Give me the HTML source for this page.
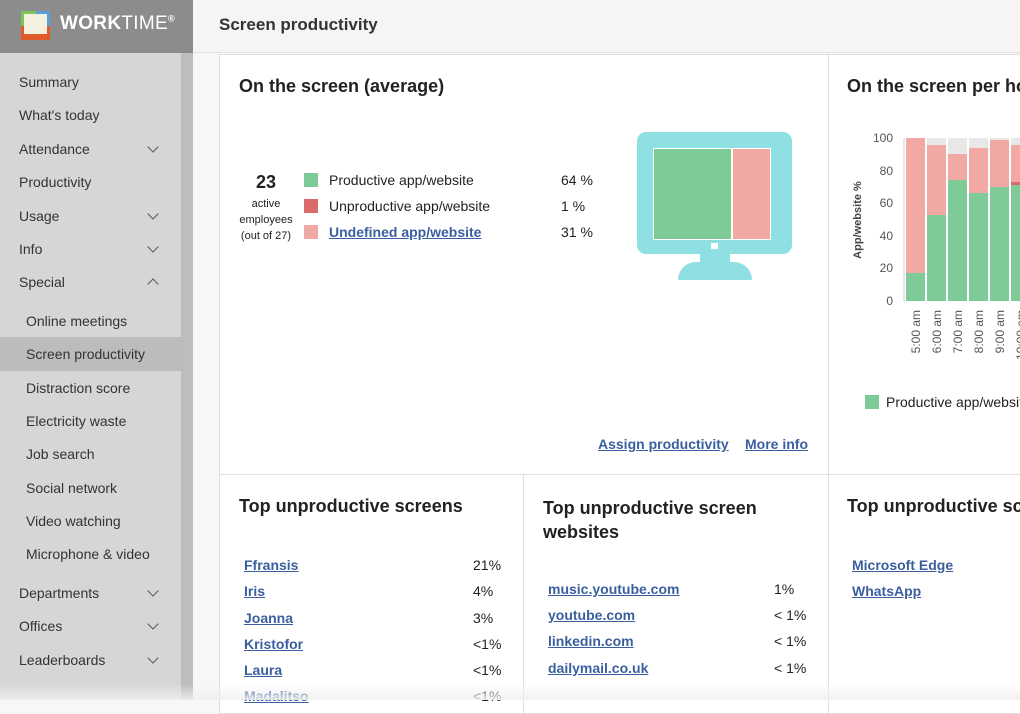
<!DOCTYPE html>
<html><head><style>
*{margin:0;padding:0;box-sizing:border-box}
body{width:1020px;height:700px;overflow:hidden;background:#f7f7f7;font-family:"Liberation Sans",sans-serif;position:relative;color:#222}
.abs{position:absolute}
.side{left:0;top:53px;width:181px;height:647px;background:#d6d6d6}
.scroll{left:181px;top:53px;width:12px;height:647px;background:#bdbdbd}
.logo{left:0;top:0;width:193px;height:53px;background:#8c8c8d}
.hdr{left:193px;top:0;width:827px;height:53px;background:#f5f5f5;border-bottom:1px solid #e2e2e2}
.nav{position:absolute;left:19px;font-size:14px;color:#333}
.sub{left:26px}
.chev{position:absolute;left:149px;width:8px;height:8px;border-right:1.6px solid #555;border-bottom:1.6px solid #555;transform:rotate(45deg)}
.up{transform:rotate(-135deg)}
.card{background:#fff;border:1px solid #e0e0e0}
h2{font-size:18px;font-weight:bold;color:#222;position:absolute}
a{color:#3b5f9e;font-weight:bold;text-decoration:underline;font-size:14px;position:absolute}
.t{position:absolute;font-size:14px;color:#222}
</style></head><body>
<div class="abs logo"></div>
<div class="abs" style="left:21px;top:11px;width:29px;height:29px;background:#e05a2b"></div>
<div class="abs" style="left:21px;top:11px;width:15px;height:15px;background:#7cc35a"></div>
<div class="abs" style="left:36px;top:11px;width:14px;height:15px;background:#5a9fd8"></div>
<div class="abs" style="left:24px;top:14px;width:23px;height:20px;background:#f4f1e0"></div>
<div class="abs" style="left:60px;top:13px;font-size:19px;color:#fff;font-weight:bold;letter-spacing:0.3px">WORK<span style="font-weight:normal">TIME</span><sup style="font-size:9px">®</sup></div>
<div class="abs hdr"></div>
<div class="abs" style="left:219px;top:15px;font-size:17px;font-weight:bold;color:#333">Screen productivity</div>
<div class="abs side"></div>
<div class="abs scroll"></div>
<div class="abs" style="left:0;top:337px;width:181px;height:34px;background:#bcbcbc"></div>
<div class="nav" style="top:74px">Summary</div>
<div class="nav" style="top:107px">What's today</div>
<div class="nav" style="top:141px">Attendance</div><div class="chev" style="top:143px"></div>
<div class="nav" style="top:174px">Productivity</div>
<div class="nav" style="top:208px">Usage</div><div class="chev" style="top:210px"></div>
<div class="nav" style="top:241px">Info</div><div class="chev" style="top:243px"></div>
<div class="nav" style="top:274px">Special</div><div class="chev up" style="top:280px"></div>
<div class="nav sub" style="top:313px">Online meetings</div>
<div class="nav sub" style="top:346px">Screen productivity</div>
<div class="nav sub" style="top:380px">Distraction score</div>
<div class="nav sub" style="top:413px">Electricity waste</div>
<div class="nav sub" style="top:446px">Job search</div>
<div class="nav sub" style="top:480px">Social network</div>
<div class="nav sub" style="top:513px">Video watching</div>
<div class="nav sub" style="top:546px">Microphone &amp; video</div>
<div class="nav" style="top:585px">Departments</div><div class="chev" style="top:587px"></div>
<div class="nav" style="top:618px">Offices</div><div class="chev" style="top:620px"></div>
<div class="nav" style="top:652px">Leaderboards</div><div class="chev" style="top:654px"></div>

<div class="abs card" style="left:219px;top:54px;width:610px;height:421px"></div>
<div class="abs card" style="left:828px;top:54px;width:200px;height:421px"></div>
<div class="abs card" style="left:219px;top:474px;width:305px;height:240px"></div>
<div class="abs card" style="left:523px;top:474px;width:306px;height:240px"></div>
<div class="abs card" style="left:828px;top:474px;width:200px;height:240px"></div>

<h2 style="left:239px;top:76px">On the screen (average)</h2>
<div class="abs" style="left:234px;top:172px;width:64px;text-align:center;font-size:18px;font-weight:bold">23</div>
<div class="abs" style="left:234px;top:196px;width:64px;text-align:center;font-size:11px;line-height:16px">active<br>employees<br>(out of 27)</div>
<div class="abs" style="left:304px;top:173px;width:14px;height:14px;background:#7fcb97"></div>
<div class="abs" style="left:304px;top:199px;width:14px;height:14px;background:#d96b6b"></div>
<div class="abs" style="left:304px;top:225px;width:14px;height:14px;background:#f2a9a3"></div>
<div class="t" style="left:329px;top:172px">Productive app/website</div>
<div class="t" style="left:329px;top:198px">Unproductive app/website</div>
<a style="left:329px;top:224px">Undefined app/website</a>
<div class="t" style="left:561px;top:172px">64 %</div>
<div class="t" style="left:561px;top:198px">1 %</div>
<div class="t" style="left:561px;top:224px">31 %</div>
<!-- monitor -->
<div class="abs" style="left:637px;top:132px;width:155px;height:122px;background:#8fe0e2;border-radius:9px"></div>
<div class="abs" style="left:653px;top:148px;width:79px;height:92px;background:#7fcb97;border:1px solid #fff"></div>
<div class="abs" style="left:732px;top:148px;width:39px;height:92px;background:#f2a9a3;border:1px solid #fff"></div>
<div class="abs" style="left:711px;top:243px;width:7px;height:6px;background:#fff"></div>
<div class="abs" style="left:700px;top:254px;width:30px;height:8px;background:#8fe0e2"></div>
<div class="abs" style="left:678px;top:262px;width:74px;height:18px;background:#8fe0e2;border-radius:30px 30px 0 0"></div>
<a style="left:598px;top:436px">Assign productivity</a>
<a style="left:745px;top:436px">More info</a>

<h2 style="left:847px;top:76px;white-space:nowrap">On the screen per hour</h2>
<svg class="abs" style="left:830px;top:120px" width="190" height="300">
<g font-family="Liberation Sans" font-size="12" fill="#555" text-anchor="end">
<text x="63" y="22">100</text><text x="63" y="55">80</text><text x="63" y="87">60</text><text x="63" y="120">40</text><text x="63" y="152">20</text><text x="63" y="185">0</text>
</g>
<text transform="translate(31,100) rotate(-90)" font-family="Liberation Sans" font-size="11" font-weight="bold" fill="#444" text-anchor="middle">App/website %</text>
<line x1="74" y1="18" x2="74" y2="182" stroke="#ccc"/>
<g id="b"></g>
<!-- bars: y0=181, scale 1.63 -->
<rect x="76" y="18" width="19" height="163" fill="#e8e8e8"/><rect x="76" y="18" width="19" height="163" fill="#f2a9a3"/><rect x="76" y="153" width="19" height="28" fill="#7fcb97"/>
<rect x="97" y="18" width="19" height="163" fill="#e8e8e8"/><rect x="97" y="25" width="19" height="156" fill="#f2a9a3"/><rect x="97" y="95" width="19" height="86" fill="#7fcb97"/>
<rect x="118" y="18" width="19" height="163" fill="#e8e8e8"/><rect x="118" y="34" width="19" height="147" fill="#f2a9a3"/><rect x="118" y="60" width="19" height="121" fill="#7fcb97"/>
<rect x="139" y="18" width="19" height="163" fill="#e8e8e8"/><rect x="139" y="28" width="19" height="153" fill="#f2a9a3"/><rect x="139" y="73" width="19" height="108" fill="#7fcb97"/>
<rect x="160" y="18" width="19" height="163" fill="#e8e8e8"/><rect x="160" y="20" width="19" height="161" fill="#f2a9a3"/><rect x="160" y="67" width="19" height="114" fill="#7fcb97"/>
<rect x="181" y="18" width="19" height="163" fill="#e8e8e8"/><rect x="181" y="25" width="19" height="156" fill="#f2a9a3"/><rect x="181" y="62" width="19" height="3" fill="#d96b6b"/><rect x="181" y="65" width="19" height="116" fill="#7fcb97"/>
<g font-family="Liberation Sans" font-size="12" fill="#555" text-anchor="end">
<text transform="translate(90,190) rotate(-90)">5:00 am</text>
<text transform="translate(111,190) rotate(-90)">6:00 am</text>
<text transform="translate(132,190) rotate(-90)">7:00 am</text>
<text transform="translate(153,190) rotate(-90)">8:00 am</text>
<text transform="translate(174,190) rotate(-90)">9:00 am</text>
<text transform="translate(195,190) rotate(-90)">10:00 am</text>
</g>
<rect x="35" y="275" width="14" height="14" fill="#7fcb97"/>
<text x="56" y="287" font-family="Liberation Sans" font-size="14" fill="#222">Productive app/website</text>
</svg>

<h2 style="left:239px;top:496px">Top unproductive screens</h2>
<a style="left:244px;top:557px">Ffransis</a><div class="t" style="left:473px;top:557px">21%</div>
<a style="left:244px;top:583px">Iris</a><div class="t" style="left:473px;top:583px">4%</div>
<a style="left:244px;top:610px">Joanna</a><div class="t" style="left:473px;top:610px">3%</div>
<a style="left:244px;top:636px">Kristofor</a><div class="t" style="left:473px;top:636px">&lt;1%</div>
<a style="left:244px;top:662px">Laura</a><div class="t" style="left:473px;top:662px">&lt;1%</div>
<a style="left:244px;top:688px">Madalitso</a><div class="t" style="left:473px;top:688px">&lt;1%</div>

<h2 style="left:543px;top:496px;line-height:24px">Top unproductive screen<br>websites</h2>
<a style="left:548px;top:581px">music.youtube.com</a><div class="t" style="left:774px;top:581px">1%</div>
<a style="left:548px;top:607px">youtube.com</a><div class="t" style="left:774px;top:607px">&lt; 1%</div>
<a style="left:548px;top:633px">linkedin.com</a><div class="t" style="left:774px;top:633px">&lt; 1%</div>
<a style="left:548px;top:660px">dailymail.co.uk</a><div class="t" style="left:774px;top:660px">&lt; 1%</div>

<h2 style="left:847px;top:496px;white-space:nowrap">Top unproductive screens</h2>
<a style="left:852px;top:557px">Microsoft Edge</a>
<a style="left:852px;top:583px">WhatsApp</a>
<div class="abs" style="left:0;top:684px;width:1020px;height:16px;background:linear-gradient(rgba(245,245,245,0),rgba(240,240,240,0.9))"></div>
</body></html>
